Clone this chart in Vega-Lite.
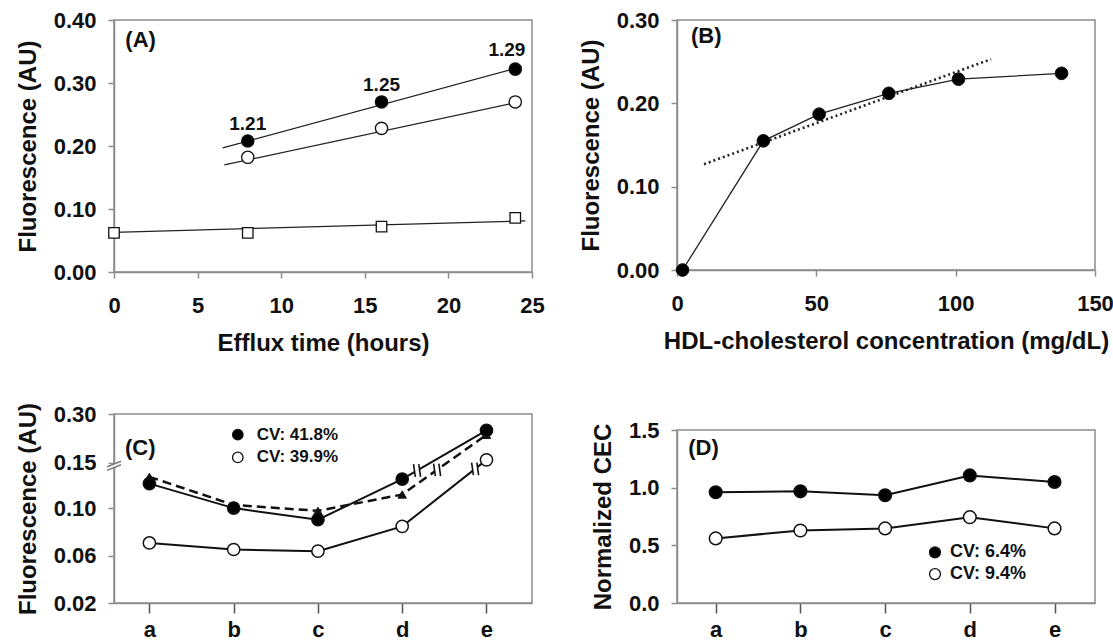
{
  "$schema": "https://vega.github.io/schema/vega-lite/v6.json",
  "background": "white",
  "padding": {"left": 15, "top": 8, "right": 0, "bottom": 0},
  "spacing": 33,
  "datasets": {
    "ptsA": [
      {"group": "filled", "time": 8, "value": 0.208},
      {"group": "filled", "time": 16, "value": 0.270},
      {"group": "filled", "time": 24, "value": 0.322},
      {"group": "open", "time": 8, "value": 0.182},
      {"group": "open", "time": 16, "value": 0.228},
      {"group": "open", "time": 24, "value": 0.270},
      {"group": "blank", "time": 0, "value": 0.062},
      {"group": "blank", "time": 8, "value": 0.062},
      {"group": "blank", "time": 16, "value": 0.072},
      {"group": "blank", "time": 24, "value": 0.086}
    ],
    "fitA": [
      {"group": "filled", "time": 6.5, "value": 0.197},
      {"group": "filled", "time": 24.4, "value": 0.326},
      {"group": "open", "time": 6.6, "value": 0.170},
      {"group": "open", "time": 24.4, "value": 0.271},
      {"group": "blank", "time": 0, "value": 0.063},
      {"group": "blank", "time": 24.6, "value": 0.081}
    ],
    "ratioA": [
      {"time": 8, "value": 0.235, "label": "1.21"},
      {"time": 16, "value": 0.297, "label": "1.25"},
      {"time": 23.5, "value": 0.353, "label": "1.29"}
    ],
    "ptsB": [
      {"hdl": 2, "value": 0.0},
      {"hdl": 31, "value": 0.155},
      {"hdl": 51, "value": 0.187},
      {"hdl": 76, "value": 0.212},
      {"hdl": 101, "value": 0.229},
      {"hdl": 138, "value": 0.236}
    ],
    "trendB": [
      {"hdl": 9.7, "value": 0.127},
      {"hdl": 112.7, "value": 0.253}
    ],
    "ptsC": [
      {"group": "filled", "sample": "a", "idx": 1, "value": 0.127},
      {"group": "filled", "sample": "b", "idx": 2, "value": 0.100},
      {"group": "filled", "sample": "c", "idx": 3, "value": 0.0902},
      {"group": "filled", "sample": "d", "idx": 4, "value": 0.132},
      {"group": "filled", "sample": "e", "idx": 5, "value": 0.250},
      {"group": "tri", "sample": "a", "idx": 1, "value": 0.1345},
      {"group": "tri", "sample": "b", "idx": 2, "value": 0.1035},
      {"group": "tri", "sample": "c", "idx": 3, "value": 0.0977},
      {"group": "tri", "sample": "d", "idx": 4, "value": 0.115},
      {"group": "tri", "sample": "e", "idx": 5, "value": 0.236},
      {"group": "open", "sample": "a", "idx": 1, "value": 0.0706},
      {"group": "open", "sample": "b", "idx": 2, "value": 0.0651},
      {"group": "open", "sample": "c", "idx": 3, "value": 0.0637},
      {"group": "open", "sample": "d", "idx": 4, "value": 0.0846},
      {"group": "open", "sample": "e", "idx": 5, "value": 0.159}
    ],
    "breaksC": [
      {"idx": 4.176, "value": 0.1415},
      {"idx": 4.414, "value": 0.1422},
      {"idx": 4.865, "value": 0.1433}
    ],
    "axisBreakC": [
      {"idx": 0.58, "value": 0.147}
    ],
    "legendC": [
      {"group": "filled", "idx": 2.049, "value": 0.2365, "label": "CV: 41.8%"},
      {"group": "open", "idx": 2.049, "value": 0.1666, "label": "CV: 39.9%"}
    ],
    "ptsD": [
      {"group": "filled", "sample": "a", "idx": 1, "value": 0.960},
      {"group": "filled", "sample": "b", "idx": 2, "value": 0.968},
      {"group": "filled", "sample": "c", "idx": 3, "value": 0.934},
      {"group": "filled", "sample": "d", "idx": 4, "value": 1.106},
      {"group": "filled", "sample": "e", "idx": 5, "value": 1.049},
      {"group": "open", "sample": "a", "idx": 1, "value": 0.560},
      {"group": "open", "sample": "b", "idx": 2, "value": 0.629},
      {"group": "open", "sample": "c", "idx": 3, "value": 0.647},
      {"group": "open", "sample": "d", "idx": 4, "value": 0.744},
      {"group": "open", "sample": "e", "idx": 5, "value": 0.647}
    ],
    "legendD": [
      {"group": "filled", "idx": 3.589, "value": 0.439, "label": "CV: 6.4%"},
      {"group": "open", "idx": 3.589, "value": 0.251, "label": "CV: 9.4%"}
    ],
    "tags": [
      {"panel": "A", "x": 0.68, "y": 0.369, "text": "(A)"},
      {"panel": "B", "x": 5.0, "y": 0.281, "text": "(B)"},
      {"panel": "C", "x": 0.71, "y": 0.196, "text": "(C)"},
      {"panel": "D", "x": 0.675, "y": 1.342, "text": "(D)"}
    ]
  },
  "hconcat": [
    {
      "spacing": 142,
      "bounds": "flush",
      "vconcat": [
        {
          "width": 418,
          "height": 252,
          "layer": [
            {
              "data": {"name": "fitA"},
              "mark": {"type": "line", "color": "#222", "strokeWidth": 1.3},
              "encoding": {
                "x": {"field": "time", "type": "quantitative", "scale": {"domain": [0, 25], "nice": false}, "axis": {"values": [0, 5, 10, 15, 20, 25], "title": "Efflux time (hours)"}},
                "y": {"field": "value", "type": "quantitative", "scale": {"domain": [0, 0.4], "nice": false}, "axis": {"values": [0, 0.1, 0.2, 0.3, 0.4], "format": ".2f", "title": "Fluorescence (AU)"}},
                "detail": {"field": "group"}
              }
            },
            {
              "data": {"name": "ptsA"},
              "transform": [{"filter": "datum.group === 'blank'"}],
              "mark": {"type": "point", "shape": "square", "filled": true, "fill": "white", "stroke": "#111", "strokeWidth": 1.3, "size": 110, "opacity": 1},
              "encoding": {
                "x": {"field": "time", "type": "quantitative"},
                "y": {"field": "value", "type": "quantitative"}
              }
            },
            {
              "data": {"name": "ptsA"},
              "transform": [{"filter": "datum.group !== 'blank'"}],
              "mark": {"type": "point", "shape": "circle", "filled": true, "stroke": "#111", "strokeWidth": 1.3, "size": 150, "opacity": 1},
              "encoding": {
                "x": {"field": "time", "type": "quantitative"},
                "y": {"field": "value", "type": "quantitative"},
                "fill": {"condition": {"test": "datum.group === 'filled'", "value": "#000"}, "value": "#fff"}
              }
            },
            {
              "data": {"name": "ratioA"},
              "mark": {"type": "text", "fontSize": 19, "fontWeight": "bold", "baseline": "middle", "align": "center", "color": "#111"},
              "encoding": {
                "x": {"field": "time", "type": "quantitative"},
                "y": {"field": "value", "type": "quantitative"},
                "text": {"field": "label"}
              }
            },
            {
              "data": {"name": "tags"},
              "transform": [{"filter": "datum.panel === 'A'"}],
              "mark": {"type": "text", "fontSize": 22, "fontWeight": "bold", "baseline": "middle", "align": "left", "color": "#111"},
              "encoding": {
                "x": {"field": "x", "type": "quantitative"},
                "y": {"field": "y", "type": "quantitative"},
                "text": {"field": "text"}
              }
            }
          ]
        },
        {
          "width": 418,
          "height": 189,
          "layer": [
            {
              "data": {"name": "ptsC"},
              "transform": [{"filter": "datum.group !== 'tri'"}],
              "mark": {"type": "line", "color": "#111", "strokeWidth": 2},
              "encoding": {
                "x": {"field": "idx", "type": "quantitative", "scale": {"domain": [0.58, 5.54], "nice": false, "zero": false}, "axis": {"values": [1, 2, 3, 4, 5], "labelExpr": "['a','b','c','d','e'][round(datum.value)-1]", "title": null, "tickSize": 10, "labelPadding": 6, "labelFontSize": 22, "tickColor": "#555"}},
                "y": {"field": "value", "type": "quantitative", "scale": {"domain": [0.02, 0.10, 0.15, 0.30], "range": [189, 94.1, 48.8, 0], "nice": false, "zero": false}, "axis": {"values": [0.02, 0.06, 0.10, 0.15, 0.30], "format": ".2f", "title": "Fluorescence (AU)"}},
                "detail": {"field": "group"}
              }
            },
            {
              "data": {"name": "ptsC"},
              "transform": [{"filter": "datum.group === 'tri'"}],
              "mark": {"type": "line", "color": "#111", "strokeWidth": 2.5, "strokeDash": [9, 5]},
              "encoding": {
                "x": {"field": "idx", "type": "quantitative"},
                "y": {"field": "value", "type": "quantitative"}
              }
            },
            {
              "data": {"name": "breaksC"},
              "mark": {"type": "point", "shape": "M-0.3,-0.75L0.3,-0.75L0.3,0.75L-0.3,0.75Z", "filled": true, "fill": "white", "strokeWidth": 0, "size": 196, "opacity": 1},
              "encoding": {
                "x": {"field": "idx", "type": "quantitative"},
                "y": {"field": "value", "type": "quantitative"}
              }
            },
            {
              "data": {"name": "breaksC"},
              "mark": {"type": "point", "shape": "M-0.5,-0.9L-0.25,0.9M0.25,-0.9L0.5,0.9", "filled": false, "stroke": "#111", "strokeWidth": 1.6, "size": 196, "opacity": 1},
              "encoding": {
                "x": {"field": "idx", "type": "quantitative"},
                "y": {"field": "value", "type": "quantitative"}
              }
            },
            {
              "data": {"name": "axisBreakC"},
              "mark": {"type": "point", "shape": "M-1,0.2L1,-0.6L1,-0.1L-1,0.7Z", "filled": true, "fill": "white", "strokeWidth": 0, "size": 196, "opacity": 1},
              "encoding": {
                "x": {"field": "idx", "type": "quantitative"},
                "y": {"field": "value", "type": "quantitative"}
              }
            },
            {
              "data": {"name": "axisBreakC"},
              "mark": {"type": "point", "shape": "M-1,0.2L1,-0.6M-1,0.7L1,-0.1", "filled": false, "stroke": "#777", "strokeWidth": 1.5, "size": 196, "opacity": 1},
              "encoding": {
                "x": {"field": "idx", "type": "quantitative"},
                "y": {"field": "value", "type": "quantitative"}
              }
            },
            {
              "data": {"name": "ptsC"},
              "transform": [{"filter": "datum.group === 'tri'"}],
              "mark": {"type": "point", "shape": "triangle-up", "filled": true, "fill": "#111", "stroke": "#111", "strokeWidth": 1, "size": 70, "opacity": 1},
              "encoding": {
                "x": {"field": "idx", "type": "quantitative"},
                "y": {"field": "value", "type": "quantitative"}
              }
            },
            {
              "data": {"name": "ptsC"},
              "transform": [{"filter": "datum.group !== 'tri'"}],
              "mark": {"type": "point", "shape": "circle", "filled": true, "stroke": "#111", "strokeWidth": 1.5, "size": 150, "opacity": 1},
              "encoding": {
                "x": {"field": "idx", "type": "quantitative"},
                "y": {"field": "value", "type": "quantitative"},
                "fill": {"condition": {"test": "datum.group === 'filled'", "value": "#000"}, "value": "#fff"}
              }
            },
            {
              "data": {"name": "legendC"},
              "mark": {"type": "point", "shape": "circle", "filled": true, "stroke": "#111", "strokeWidth": 1.3, "size": 110, "opacity": 1},
              "encoding": {
                "x": {"field": "idx", "type": "quantitative"},
                "y": {"field": "value", "type": "quantitative"},
                "fill": {"condition": {"test": "datum.group === 'filled'", "value": "#000"}, "value": "#fff"}
              }
            },
            {
              "data": {"name": "legendC"},
              "mark": {"type": "text", "fontSize": 17, "fontWeight": "bold", "baseline": "middle", "align": "left", "dx": 19, "color": "#111"},
              "encoding": {
                "x": {"field": "idx", "type": "quantitative"},
                "y": {"field": "value", "type": "quantitative"},
                "text": {"field": "label"}
              }
            },
            {
              "data": {"name": "tags"},
              "transform": [{"filter": "datum.panel === 'C'"}],
              "mark": {"type": "text", "fontSize": 22, "fontWeight": "bold", "baseline": "middle", "align": "left", "color": "#111"},
              "encoding": {
                "x": {"field": "x", "type": "quantitative"},
                "y": {"field": "y", "type": "quantitative"},
                "text": {"field": "text"}
              }
            }
          ]
        }
      ]
    },
    {
      "spacing": 160,
      "bounds": "flush",
      "vconcat": [
        {
          "width": 418,
          "height": 250,
          "layer": [
            {
              "data": {"name": "trendB"},
              "mark": {"type": "line", "color": "#222", "strokeWidth": 2.6, "strokeDash": [2, 3]},
              "encoding": {
                "x": {"field": "hdl", "type": "quantitative", "scale": {"domain": [0, 150], "nice": false}, "axis": {"values": [0, 50, 100, 150], "title": "HDL-cholesterol concentration (mg/dL)"}},
                "y": {"field": "value", "type": "quantitative", "scale": {"domain": [0, 0.3], "nice": false}, "axis": {"values": [0, 0.1, 0.2, 0.3], "format": ".2f", "title": "Fluorescence (AU)"}}
              }
            },
            {
              "data": {"name": "ptsB"},
              "mark": {"type": "line", "color": "#222", "strokeWidth": 1.3},
              "encoding": {
                "x": {"field": "hdl", "type": "quantitative"},
                "y": {"field": "value", "type": "quantitative"}
              }
            },
            {
              "data": {"name": "ptsB"},
              "mark": {"type": "point", "shape": "circle", "filled": true, "fill": "#000", "stroke": "#111", "strokeWidth": 1, "size": 160, "opacity": 1},
              "encoding": {
                "x": {"field": "hdl", "type": "quantitative"},
                "y": {"field": "value", "type": "quantitative"}
              }
            },
            {
              "data": {"name": "tags"},
              "transform": [{"filter": "datum.panel === 'B'"}],
              "mark": {"type": "text", "fontSize": 22, "fontWeight": "bold", "baseline": "middle", "align": "left", "color": "#111"},
              "encoding": {
                "x": {"field": "x", "type": "quantitative"},
                "y": {"field": "y", "type": "quantitative"},
                "text": {"field": "text"}
              }
            }
          ]
        },
        {
          "width": 418,
          "height": 173,
          "layer": [
            {
              "data": {"name": "ptsD"},
              "mark": {"type": "line", "color": "#111", "strokeWidth": 2},
              "encoding": {
                "x": {"field": "idx", "type": "quantitative", "scale": {"domain": [0.543, 5.478], "nice": false, "zero": false}, "axis": {"values": [1, 2, 3, 4, 5], "labelExpr": "['a','b','c','d','e'][round(datum.value)-1]", "title": null, "tickSize": 10, "labelPadding": 6, "labelFontSize": 22, "tickColor": "#555"}},
                "y": {"field": "value", "type": "quantitative", "scale": {"domain": [0, 1.5], "nice": false}, "axis": {"values": [0, 0.5, 1.0, 1.5], "format": ".1f", "title": "Normalized CEC"}},
                "detail": {"field": "group"}
              }
            },
            {
              "data": {"name": "ptsD"},
              "mark": {"type": "point", "shape": "circle", "filled": true, "stroke": "#111", "strokeWidth": 1.5, "size": 160, "opacity": 1},
              "encoding": {
                "x": {"field": "idx", "type": "quantitative"},
                "y": {"field": "value", "type": "quantitative"},
                "fill": {"condition": {"test": "datum.group === 'filled'", "value": "#000"}, "value": "#fff"}
              }
            },
            {
              "data": {"name": "legendD"},
              "mark": {"type": "point", "shape": "circle", "filled": true, "stroke": "#111", "strokeWidth": 1.3, "size": 120, "opacity": 1},
              "encoding": {
                "x": {"field": "idx", "type": "quantitative"},
                "y": {"field": "value", "type": "quantitative"},
                "fill": {"condition": {"test": "datum.group === 'filled'", "value": "#000"}, "value": "#fff"}
              }
            },
            {
              "data": {"name": "legendD"},
              "mark": {"type": "text", "fontSize": 18, "fontWeight": "bold", "baseline": "middle", "align": "left", "dx": 15, "color": "#111"},
              "encoding": {
                "x": {"field": "idx", "type": "quantitative"},
                "y": {"field": "value", "type": "quantitative"},
                "text": {"field": "label"}
              }
            },
            {
              "data": {"name": "tags"},
              "transform": [{"filter": "datum.panel === 'D'"}],
              "mark": {"type": "text", "fontSize": 22, "fontWeight": "bold", "baseline": "middle", "align": "left", "color": "#111"},
              "encoding": {
                "x": {"field": "x", "type": "quantitative"},
                "y": {"field": "y", "type": "quantitative"},
                "text": {"field": "text"}
              }
            }
          ]
        }
      ]
    }
  ],
  "config": {
    "font": "Liberation Sans",
    "view": {"stroke": "#8c8c8c", "strokeWidth": 1.5},
    "axis": {
      "grid": false,
      "domainColor": "#8c8c8c",
      "domainWidth": 1.5,
      "tickColor": "#8c8c8c",
      "tickWidth": 1.5,
      "labelFont": "Liberation Sans",
      "labelFontWeight": "bold",
      "labelFontSize": 22,
      "labelColor": "#111",
      "labelFlush": false,
      "labelOverlap": false,
      "titleFont": "Liberation Sans",
      "titleFontWeight": "bold",
      "titleFontSize": 24,
      "titleColor": "#111"
    },
    "axisY": {"tickSize": 6, "labelPadding": 12, "titlePadding": 13},
    "axisX": {"tickSize": 6, "labelPadding": 17, "titlePadding": 15}
  }
}
